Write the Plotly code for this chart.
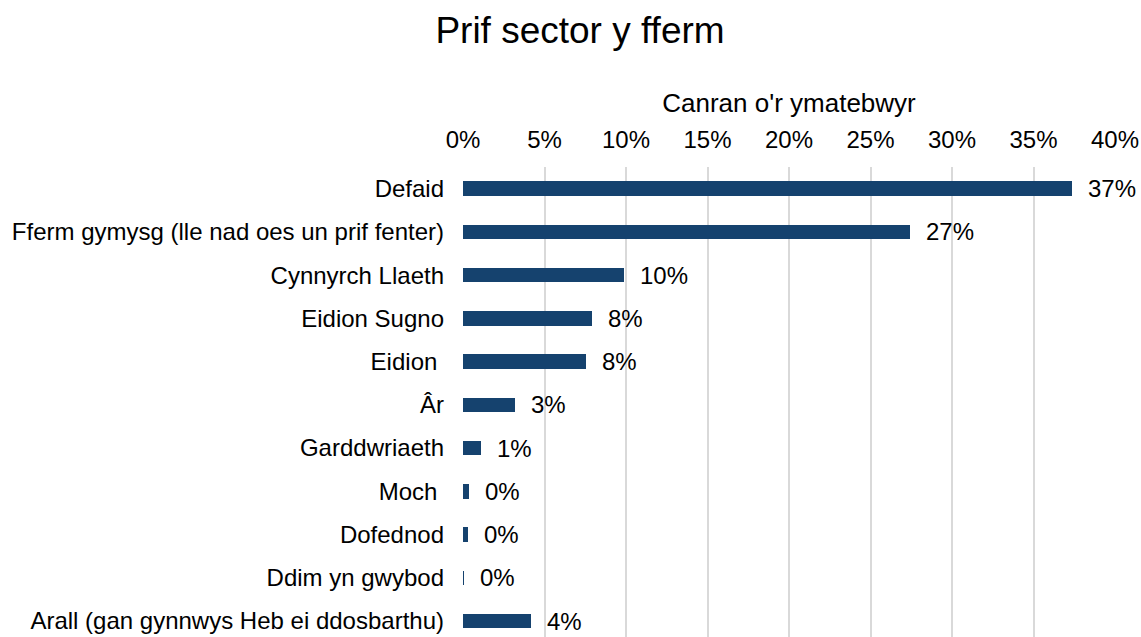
import plotly.graph_objects as go

categories = [
    "Defaid",
    "Fferm gymysg (lle nad oes un prif fenter)",
    "Cynnyrch Llaeth",
    "Eidion Sugno",
    "Eidion ",
    "Âr",
    "Garddwriaeth",
    "Moch ",
    "Dofednod",
    "Ddim yn gwybod",
    "Arall (gan gynnwys Heb ei ddosbarthu)",
]
values = [0.3735, 0.274, 0.099, 0.079, 0.0757, 0.0319, 0.0113, 0.0035, 0.0029, 0.0006, 0.042]

bar_color = "#15426E"
font_family = "Liberation Sans, Arial, sans-serif"

fig = go.Figure()
fig.add_trace(go.Bar(
    x=values,
    y=list(range(len(categories))),
    orientation="h",
    marker=dict(color=bar_color, line=dict(width=0)),
    width=0.335,
    hoverinfo="skip",
))

for i, v in enumerate(values):
    fig.add_annotation(
        x=v, y=i, xref="x", yref="y",
        text=f"{round(v * 100):.0f}%",
        showarrow=False, xanchor="left", yanchor="middle",
        xshift=14,
        font=dict(size=24, color="#000000", family=font_family),
    )

fig.update_layout(
    width=1141, height=637,
    margin=dict(l=463, r=26, t=167, b=0, pad=0),
    paper_bgcolor="white", plot_bgcolor="white",
    font=dict(family=font_family, color="#000000"),
    title=dict(
        text="Prif sector y fferm",
        x=580 / 1141, xanchor="center",
        y=1 - 30 / 637, yanchor="middle", yref="container",
        font=dict(size=37, color="#000000", family=font_family),
    ),
    showlegend=False,
    bargap=0,
)

fig.update_xaxes(
    side="top",
    range=[0, 0.40],
    tickmode="linear", tick0=0, dtick=0.05,
    tickformat=".0%",
    showgrid=True, gridcolor="#D9D9D9", gridwidth=1.5,
    zeroline=False, showline=False, ticks="",
    ticklabelstandoff=13,
    tickfont=dict(size=24, color="#000000"),
    title=dict(text="Canran o'r ymatebwyr", font=dict(size=26, color="#000000"), standoff=6),
)

fig.update_yaxes(
    tickmode="array",
    tickvals=list(range(len(categories))),
    ticktext=categories,
    range=[10.37, -0.5],
    showgrid=False, zeroline=False, showline=False, ticks="",
    ticklabelstandoff=18,
    tickfont=dict(size=24, color="#000000"),
)

fig.write_html(
    "out.html",
    config={"displayModeBar": False},
    post_script="document.body.style.margin='0';document.body.style.padding='0';document.body.style.overflow='hidden';",
)
